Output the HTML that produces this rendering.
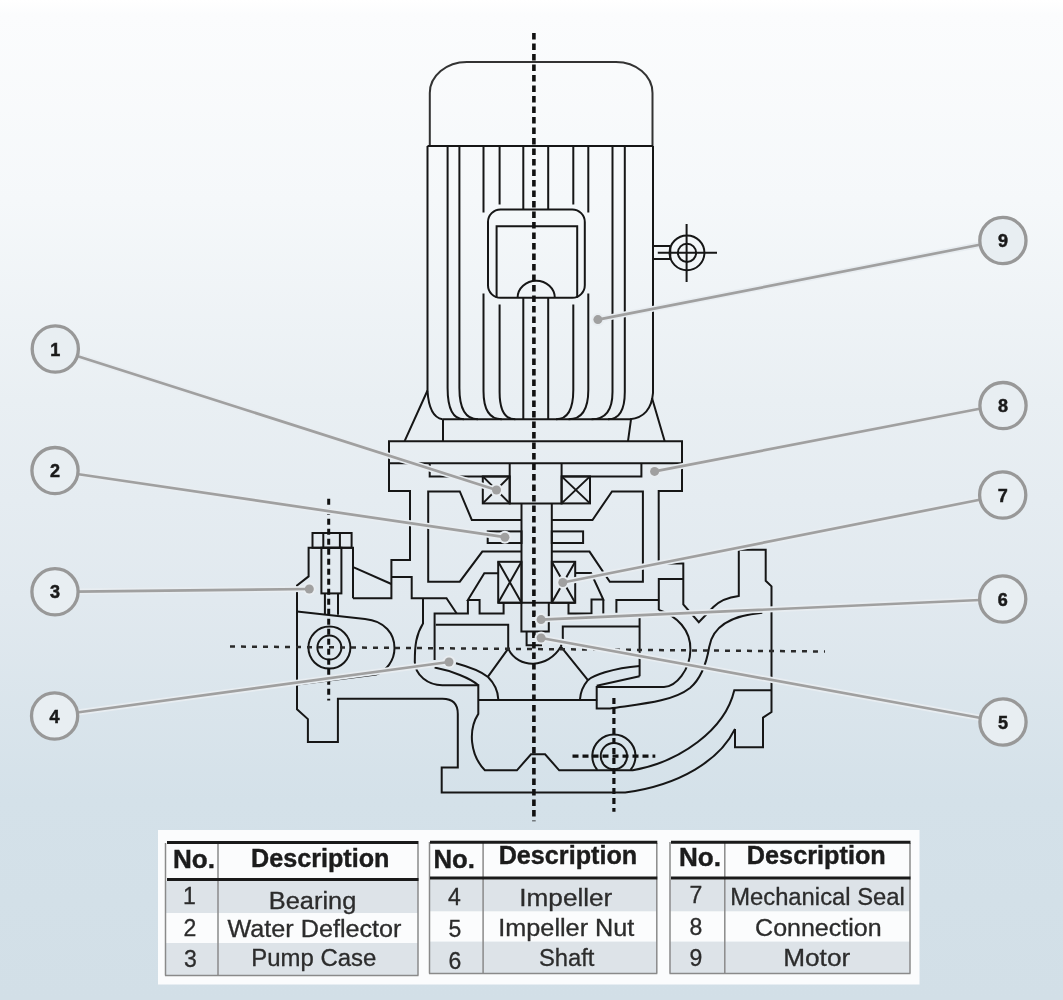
<!DOCTYPE html>
<html><head><meta charset="utf-8">
<style>
html,body{margin:0;padding:0;width:1063px;height:1000px;overflow:hidden;}
body{background:linear-gradient(to bottom,#ffffff 0px,#fbfcfd 15px,#f5f8fa 200px,#e9eff3 400px,#e1e9ef 600px,#d4e1e9 800px,#d2dfe7 1000px);font-family:"Liberation Sans",sans-serif;}
svg{position:absolute;left:0;top:0;will-change:transform;}
</style></head>
<body>
<svg width="1063" height="1000" viewBox="0 0 1063 1000">
<!-- ===== DRAWING ===== -->
<g id="draw" fill="none" stroke="#161616" stroke-width="2" stroke-linejoin="miter">
<!-- motor cap -->
<path stroke="#333" stroke-width="2" d="M429.8 146 V93 A37 31 0 0 1 466.8 62 H616 A36.5 31 0 0 1 652.5 93 V146"/>
<path d="M427.5 146 H653"/>
<path d="M427.5 146 V390.5 Q429 417 442.5 419.3"/>
<path d="M653 146 V393 Q651 417 630 419.3"/>
<path d="M447.6 146 V388 Q447.6 419.3 464 419.3"/>
<path d="M459.4 146 V388 Q459.4 419.3 478 419.3"/>
<path d="M483.5 146 V212.4 M483.5 293.6 V391 Q483.5 419.3 501.8 419.3"/>
<path d="M499.6 146 V204.5 M499.6 304.4 V392 Q499.6 419.3 515.3 419.3"/>
<path d="M523.3 146 V209.5 M523.3 297.8 V419.3"/>
<path d="M548.2 146 V209.5 M548.2 297.8 V419.3"/>
<path d="M573.3 146 V204.5 M573.3 304.4 V390 Q573.3 419.3 556 419.3"/>
<path d="M588.3 146 V212.4 M588.3 293.6 V390 Q588.3 419.3 568.6 419.3"/>
<path d="M612.5 146 V392 Q612.5 419.3 591.6 419.3"/>
<path d="M624.8 146 V392 Q624.8 419.3 608 419.3"/>
<rect x="488" y="209.5" width="96.8" height="88.3" rx="12.5"/>
<path d="M496.6 297.8 V226.3 H577.2 V297.8"/>
<path d="M517.6 297.8 A18.6 17 0 0 1 554.8 297.8"/>
<path d="M442.5 419.3 H631 M443 419.3 V441.2 M631 419.3 L628 441.2"/>
<path d="M427.5 390.5 L404.6 441.2 M652 398 L664.7 441.2"/>
<!-- terminal -->
<path d="M653 246 H670.3 M653 259.1 H670.3 M670.3 246 V259.1"/>
<circle cx="687" cy="252.8" r="17.4"/>
<circle cx="687" cy="252.8" r="9.1"/>
<path d="M686.6 224 V282 M657.8 252.8 H717"/>
<!-- flange -->
<path d="M389 441.2 H682 V463.3 H389 Z"/>
<!-- bracket -->
<path d="M389 463.3 V491 H410 V559.9 H391.4 V598.3 H353"/>
<path d="M682 463.3 V491 H658.7 V563.6 H683.3 V604.3 L698.8 622.2 L713.4 607 C720 600 730 597 738.8 595.9 V549.8 H765.7 V580.8 L771.5 586.4 V712 L763 717.6 V747.2 H735 V728.9"/>
<path d="M521.5 551.6 H482.3 L459.8 581.7 H428.2 V491.4 H459.8 L471.8 520 H521.5"/>
<path d="M551.8 551.6 H589.5 L609.8 581.7 H642.9 V491.4 H612 L592.5 520 H551.8"/>
<path d="M429.7 463.3 V476.4 H509.7 M509.7 463.3 V503.4 H561.6 V463.3 M561.6 476.4 H641.4 V463.3"/>
<rect x="482.8" y="476.4" width="26.9" height="27"/>
<path d="M482.8 476.4 L509.7 503.4 M509.7 476.4 L482.8 503.4"/>
<rect x="561.6" y="476.4" width="28.4" height="27"/>
<path d="M561.6 476.4 L590 503.4 M590 476.4 L561.6 503.4"/>
<path d="M521.5 503.4 V602.8 M551.8 503.4 V602.8"/>
<rect x="487.7" y="531.4" width="33.8" height="11.6"/>
<rect x="551.8" y="531.4" width="31.3" height="11.6"/>
<!-- mech seal -->
<rect x="498.2" y="561.8" width="23.3" height="41"/>
<path d="M498.2 561.8 L521.5 602.8 M521.5 561.8 L498.2 602.8"/>
<rect x="551.8" y="561.8" width="23.4" height="41"/>
<path d="M551.8 561.8 L575.2 602.8 M575.2 561.8 L551.8 602.8"/>
<path d="M498.2 602.8 H575.2"/>
<path d="M498.2 573.3 H484.3 L467.9 600.1 H479.6 V613.5 H503.6 V602.8"/>
<path d="M434.6 660 V613.5 H467.9 V600.1"/>
<path d="M575.2 573 H591 L603.3 599.6 H591.5 V613.5 H568.5 V602.8 M603.3 599.6 V613.5"/>
<path d="M616.4 612.8 V600.1 H658.8"/>
<path d="M658.8 610 V578.9 H683.3"/>
<!-- impeller nut -->
<path d="M521.4 602.8 V631.5 H548.8 V602.8 M526.6 631.5 V645.3 H541 V631.5"/>
<!-- impeller -->
<path d="M435.7 624.8 H508.2 V648.6"/>
<path d="M639.6 613 V676.2 M639.6 626.5 H562.8 V639.4 L560.9 646.6"/>
<path d="M508.2 648.6 C518 669 548 669 560.9 646.6"/>
<path d="M508.2 648.6 L487.8 676.9 M560.9 646.6 L587.9 680.2"/>
<path d="M434.6 667.6 C452 671 470 678 478.3 685.2"/>
<path d="M456 663.2 C470 667 482 672 488 677 C495 684 498 692 498.3 699.3"/>
<path d="M639.6 665.9 C612 668 592 676 587.9 680.2 C583 686 580.5 692 580 699.3"/>
<path d="M639.6 676.2 L596.7 685.8"/>
<!-- volute left -->
<path d="M391.4 576.9 H411.7 V598.3 H446.5 L456.7 613.5"/>
<path d="M423 598.3 V623.6 C416 635 414.8 645 414.8 662 C415 675 428 685.2 442.3 685.2 H478.3 V700"/>
<path d="M478.6 700 H597.2"/>
<!-- volute right -->
<path d="M658.8 610 C677 616 691 630 690.4 650 C690 670 676 686.9 664 686.9 H596.7 V708.4 H610 C640 704 672 702 690 688 C703 677 707 660 709.2 647 C712 630 725 616 762.3 612.8"/>
<!-- lower pocket -->
<path d="M478.3 700 V713.9 C468 730 470 755 484.9 770.3 H516.9 L531 754.3 H545.1 L559.2 770.3 H632.7 C680 762 725 730 734.3 690.3 H771.3"/>
<path d="M735 728.9 C720 760 680 785 625.2 792.5 H441.7 V767.4 H457.8 V714 Q457.8 698.8 442.5 698.8 H337.9 V742 H307.9 V719.1 L297 709.3 V585.5 L308.6 576.4 V547.8 H353 V598.3"/>
<path d="M297 611.5 L365 619 C385 621 394.5 634 394.5 648 C394.5 661 386 671 376 674.5 L297 684.5"/>
<path d="M353.8 567.4 L391.4 584"/>
<circle cx="329.4" cy="647.6" r="21"/>
<circle cx="329.4" cy="647.6" r="12"/>
<!-- bolt -->
<rect x="312.5" y="533" width="39.1" height="14.8"/>
<path d="M323.3 533 V547.8 M339.9 533 V547.8"/>
<rect x="321.4" y="547.8" width="20" height="45.6"/>
<path d="M324.9 593.4 V614.8 M338 593.4 V614.8"/>
<!-- discharge boss -->
<path d="M597.3 770 A21.6 21.6 0 1 1 630.5 770"/>
<circle cx="613.9" cy="756.2" r="13.2"/>
</g>
<!-- dashed center lines -->
<g fill="none" stroke="#111">
<path d="M533.9 33 V821.3" stroke-width="3.6" stroke-dasharray="6.5 4"/>
<path d="M230 646.5 L825 651.5" stroke="#2a2a2a" stroke-width="2.5" stroke-dasharray="5 6"/>
<path d="M328.7 498.8 V700.5" stroke-width="3" stroke-dasharray="6 4"/>
<path d="M613.9 697.9 V811.7" stroke-width="3.2" stroke-dasharray="6 4"/>
<path d="M572.5 756.2 H655.3" stroke-width="3.2" stroke-dasharray="6 4"/>
</g>
<!-- ===== CALLOUTS ===== -->
<g stroke="#e8edf1" stroke-width="6" fill="none" stroke-linecap="round">
<path d="M77 356 L496.5 490"/>
<path d="M77 474 L504.9 537.2"/>
<path d="M77 591.6 L309.3 589"/>
<path d="M77 712.5 L449 662"/>
<path d="M981 718 L541.1 638"/>
<path d="M980 600 L541.1 619.6"/>
<path d="M981 499.5 L562.8 582.5"/>
<path d="M981 408.5 L654.6 471.4"/>
<path d="M981 244.5 L597.9 319.6"/>
</g>
<g fill="#e8edf1">
<circle cx="496.5" cy="490" r="6.5"/>
<circle cx="504.9" cy="537.2" r="6.5"/>
<circle cx="309.3" cy="589" r="6.5"/>
<circle cx="449" cy="662" r="6.5"/>
<circle cx="541.1" cy="638" r="6.5"/>
<circle cx="541.1" cy="619.6" r="6.5"/>
<circle cx="562.8" cy="582.5" r="6.5"/>
<circle cx="654.6" cy="471.4" r="6.5"/>
<circle cx="597.9" cy="319.6" r="6.5"/>
</g>
<g stroke="#a0a0a0" stroke-width="2.7" fill="none" stroke-linecap="round">
<path d="M77 356 L496.5 490"/>
<path d="M77 474 L504.9 537.2"/>
<path d="M77 591.6 L309.3 589"/>
<path d="M77 712.5 L449 662"/>
<path d="M981 718 L541.1 638"/>
<path d="M980 600 L541.1 619.6"/>
<path d="M981 499.5 L562.8 582.5"/>
<path d="M981 408.5 L654.6 471.4"/>
<path d="M981 244.5 L597.9 319.6"/>
</g>
<g fill="#a0a0a0">
<circle cx="496.5" cy="490" r="4.5"/>
<circle cx="504.9" cy="537.2" r="4.5"/>
<circle cx="309.3" cy="589" r="4.5"/>
<circle cx="449" cy="662" r="4.5"/>
<circle cx="541.1" cy="638" r="4.5"/>
<circle cx="541.1" cy="619.6" r="4.5"/>
<circle cx="562.8" cy="582.5" r="4.5"/>
<circle cx="654.6" cy="471.4" r="4.5"/>
<circle cx="597.9" cy="319.6" r="4.5"/>
</g>
<g stroke="#989898" stroke-width="3.3" fill="#e8eef2">
<circle cx="55.3" cy="349" r="23.1"/>
<circle cx="55" cy="470.6" r="23.1"/>
<circle cx="55" cy="591.8" r="23.1"/>
<circle cx="54.6" cy="716" r="23.1"/>
<circle cx="1003" cy="722" r="23.1"/>
<circle cx="1002.7" cy="599" r="23.1"/>
<circle cx="1002.7" cy="495" r="23.1"/>
<circle cx="1003" cy="405.6" r="23.1"/>
<circle cx="1002.9" cy="240.5" r="23.1"/>
</g>
<g fill="#1a1a1a" stroke="#1a1a1a" stroke-width="0.5" font-family="Liberation Sans" font-weight="bold" font-size="18" text-anchor="middle">
<text x="55.3" y="355.5">1</text>
<text x="55" y="477">2</text>
<text x="55" y="598.3">3</text>
<text x="54.6" y="722.5">4</text>
<text x="1003" y="728.5">5</text>
<text x="1002.7" y="605.5">6</text>
<text x="1002.7" y="501.5">7</text>
<text x="1003" y="412">8</text>
<text x="1002.9" y="247">9</text>
</g>
<!-- ===== TABLE ===== -->
<rect x="158" y="830" width="761.5" height="154.5" fill="#fbfcfd"/>
<g id="t1">
<rect x="165" y="881" width="253" height="32" fill="#dde3e8"/>
<rect x="165" y="943" width="253" height="32" fill="#dde3e8"/>
<path d="M165.5 843 V975.5 M218 844 V975.5 M418 844 V975.5 M165 975.5 H418.5" stroke="#8a8a8a" stroke-width="1.5" fill="none"/>
<path d="M167 842.5 H418.5 M167 879.5 H418.5" stroke="#1a1a1a" stroke-width="3" fill="none"/>
</g>
<g id="t2">
<rect x="429.3" y="879.5" width="227.5" height="31.8" fill="#dde3e8"/>
<rect x="429.3" y="941.6" width="227.5" height="31.8" fill="#dde3e8"/>
<path d="M429.5 842 V973.5 M483.1 843 V973.5 M656.8 843 V973.5 M429 973.5 H657.3" stroke="#8a8a8a" stroke-width="1.5" fill="none"/>
<path d="M430 842.3 H657.3 M430 878 H657.3" stroke="#1a1a1a" stroke-width="3" fill="none"/>
</g>
<g id="t3">
<rect x="669.8" y="879.5" width="240.2" height="31.8" fill="#dde3e8"/>
<rect x="669.8" y="941.6" width="240.2" height="31.8" fill="#dde3e8"/>
<path d="M670 842 V973.5 M724.8 843 V973.5 M910 843 V973.5 M669.5 973.5 H910.5" stroke="#8a8a8a" stroke-width="1.5" fill="none"/>
<path d="M671 842.3 H910.5 M671 878 H910.5" stroke="#1a1a1a" stroke-width="3" fill="none"/>
</g>
<g font-family="Liberation Sans" font-weight="bold" font-size="25" fill="#1c1c1c" stroke="#1c1c1c" stroke-width="0.4">
<text x="173" y="868" textLength="42" lengthAdjust="spacingAndGlyphs">No.</text>
<text x="251" y="867.3" textLength="138.5" lengthAdjust="spacingAndGlyphs">Description</text>
<text x="433.5" y="868" textLength="41.5" lengthAdjust="spacingAndGlyphs">No.</text>
<text x="498.7" y="864" textLength="138.5" lengthAdjust="spacingAndGlyphs">Description</text>
<text x="679" y="866.3" textLength="42" lengthAdjust="spacingAndGlyphs">No.</text>
<text x="746.8" y="864.4" textLength="139" lengthAdjust="spacingAndGlyphs">Description</text>
</g>
<g font-family="Liberation Sans" font-size="23" fill="#2c2c2c" stroke="#2c2c2c" stroke-width="0.3">
<text x="183" y="904">1</text>
<text x="268.8" y="909.4" textLength="87.5" lengthAdjust="spacingAndGlyphs">Bearing</text>
<text x="183.5" y="935.8">2</text>
<text x="227.5" y="936.8" textLength="174" lengthAdjust="spacingAndGlyphs">Water Deflector</text>
<text x="184" y="967">3</text>
<text x="251.3" y="965.6" textLength="125" lengthAdjust="spacingAndGlyphs">Pump Case</text>
<text x="448" y="905">4</text>
<text x="519.3" y="905.7" textLength="93" lengthAdjust="spacingAndGlyphs">Impeller</text>
<text x="448.5" y="937">5</text>
<text x="498.3" y="935.8" textLength="136" lengthAdjust="spacingAndGlyphs">Impeller Nut</text>
<text x="448.5" y="968.5">6</text>
<text x="538.9" y="965.6" textLength="55.5" lengthAdjust="spacingAndGlyphs">Shaft</text>
<text x="689.5" y="902.5">7</text>
<text x="730.2" y="904.5" textLength="174.6" lengthAdjust="spacingAndGlyphs">Mechanical Seal</text>
<text x="689.5" y="935">8</text>
<text x="755.1" y="935.8" textLength="126.5" lengthAdjust="spacingAndGlyphs">Connection</text>
<text x="689.5" y="966.1">9</text>
<text x="783.2" y="965.6" textLength="67" lengthAdjust="spacingAndGlyphs">Motor</text>
</g>
</svg>
</body></html>
